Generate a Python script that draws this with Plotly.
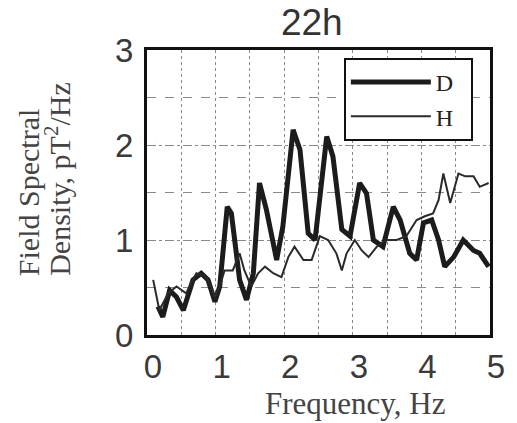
import plotly.graph_objects as go

# D series (thick line)
d_freq = [0.16, 0.23, 0.33, 0.43, 0.53, 0.67, 0.79, 0.89, 0.99, 1.06, 1.17, 1.23, 1.35, 1.45,
          1.55, 1.64, 1.74, 1.89, 1.98, 2.13, 2.23, 2.35, 2.45, 2.62, 2.71, 2.84, 2.96, 3.10,
          3.20, 3.30, 3.44, 3.59, 3.69, 3.83, 3.93, 4.03, 4.15, 4.25, 4.34, 4.47, 4.61, 4.76,
          4.85, 4.98]
d_vals = [0.30, 0.19, 0.47, 0.40, 0.26, 0.58, 0.65, 0.58, 0.35, 0.51, 1.35, 1.28, 0.58, 0.37,
          0.65, 1.60, 1.32, 0.79, 1.14, 2.16, 1.95, 1.07, 1.00, 2.09, 1.88, 1.11, 1.04, 1.60,
          1.49, 1.00, 0.93, 1.35, 1.21, 0.86, 0.79, 1.18, 1.21, 1.00, 0.72, 0.82, 1.00, 0.89,
          0.86, 0.72]

# H series (thin line)
h_freq = [0.09, 0.18, 0.31, 0.43, 0.57, 0.72, 0.87, 0.99, 1.06, 1.13, 1.25, 1.35, 1.42, 1.52,
          1.62, 1.72, 1.84, 1.96, 2.06, 2.15, 2.28, 2.40, 2.52, 2.64, 2.76, 2.84, 2.91, 3.03,
          3.13, 3.23, 3.35, 3.49, 3.64, 3.78, 3.93, 4.05, 4.17, 4.25, 4.32, 4.42, 4.54, 4.64,
          4.76, 4.85, 4.98]
h_vals = [0.58, 0.26, 0.44, 0.51, 0.44, 0.65, 0.61, 0.40, 0.51, 0.68, 0.68, 0.86, 0.68, 0.51,
          0.65, 0.72, 0.65, 0.61, 0.82, 0.93, 0.79, 0.79, 1.04, 1.00, 0.86, 0.68, 0.86, 1.00,
          0.89, 0.82, 0.93, 1.00, 1.00, 1.04, 1.21, 1.25, 1.28, 1.42, 1.70, 1.39, 1.70, 1.67,
          1.67, 1.56, 1.60]

x_ticks = [0, 1, 2, 3, 4, 5]
y_ticks = [0, 1, 2, 3]

fig = go.Figure()
fig.add_trace(go.Scatter(x=d_freq, y=d_vals, mode="lines", name="D&nbsp;&nbsp;",
                         line=dict(color="#1c1c1c", width=5)))
fig.add_trace(go.Scatter(x=h_freq, y=h_vals, mode="lines", name="H&nbsp;&nbsp;",
                         line=dict(color="#2a2a2a", width=2)))

grid = dict(showgrid=True, gridcolor="#8a8a8a", gridwidth=1, griddash="dot")
tickfont = dict(family="Liberation Sans", size=33, color="#3a3a3a")
fig.update_layout(
    width=517, height=423,
    margin=dict(l=147, r=27, t=50, b=88),
    paper_bgcolor="white", plot_bgcolor="white",
    title=dict(text="22h", x=0.603, xanchor="center", y=0.948, yanchor="middle",
               font=dict(family="Liberation Sans", size=37, color="#333")),
    showlegend=True,
    legend=dict(x=0.95, xanchor="right", y=0.972, yanchor="top",
                bgcolor="white", bordercolor="#111", borderwidth=2,
                font=dict(family="Liberation Serif", size=24, color="#222"),
                itemwidth=80, tracegroupgap=0),
    xaxis=dict(range=[0, 5], tickvals=x_ticks, ticktext=[str(v) for v in x_ticks],
               showline=True, linecolor="#111", linewidth=3, mirror=True,
               ticks="", tickfont=tickfont, ticklabelshift=6, ticklabelstandoff=0,
               zeroline=False, **grid),
    yaxis=dict(range=[0, 3], tickvals=y_ticks, showline=True, linecolor="#111", linewidth=3,
               mirror=True, ticks="", ticklabelstandoff=4, tickfont=tickfont,
               zeroline=False, **grid),
)
fig.update_xaxes(minor=dict(dtick=0.5, showgrid=True, gridcolor="#8a8a8a", griddash="dot"))
fig.update_yaxes(minor=dict(dtick=0.5, showgrid=True, gridcolor="#8a8a8a", griddash="dash"))

fig.add_annotation(text="Frequency, Hz", xref="paper", yref="paper",
                   x=0.606, y=-0.242, xanchor="center", yanchor="middle", showarrow=False,
                   font=dict(family="Liberation Serif", size=31, color="#444"))
fig.add_annotation(text="Field Spectral", textangle=-90, xref="paper", yref="paper",
                   x=-0.345, y=0.2, xanchor="center", yanchor="bottom", showarrow=False,
                   font=dict(family="Liberation Serif", size=30, color="#444"))
fig.add_annotation(text="Density, pT<sup>2</sup>/Hz", textangle=-90, xref="paper", yref="paper",
                   x=-0.26, y=0.2, xanchor="center", yanchor="bottom", showarrow=False,
                   font=dict(family="Liberation Serif", size=30, color="#444"))

fig.write_html("out.html")
